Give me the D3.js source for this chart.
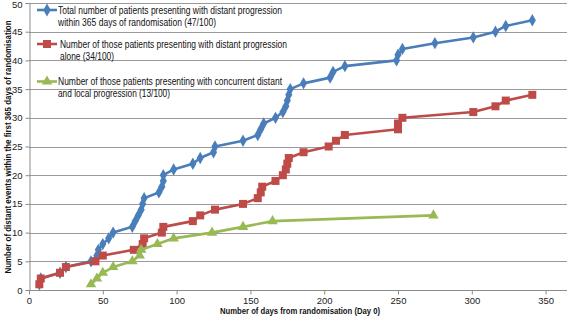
<!DOCTYPE html>
<html>
<head>
<meta charset="utf-8">
<script src="https://cdn.jsdelivr.net/npm/d3@7"></script>
<style>
  body { margin: 0; background: #fff; }
  svg { display: block; font-family: "Liberation Sans", Arial, sans-serif; }
</style>
</head>
<body>
<svg id="chart" width="567" height="317"></svg>
<script>
// days from randomisation at which the cumulative count goes up by one
const totalDays = [7, 8, 21, 25, 42, 46, 47, 50, 54, 57, 70, 72, 74, 76, 77, 78, 88, 90, 91, 91,
  98, 111, 116, 125, 126, 145, 155, 157, 159, 167, 172, 174, 175, 176, 177, 186, 204, 206, 214,
  249, 250, 253, 275, 301, 316, 323, 341];
const aloneDays = [7, 8, 21, 25, 45, 50, 71, 77, 78, 90, 91, 111, 116, 126, 145, 155, 157, 158,
  167, 172, 174, 175, 176, 186, 203, 208, 214, 250, 250, 253, 301, 316, 323, 341];
const concurrentDays = [42, 46, 50, 57, 70, 75, 76, 87, 98, 124, 145, 165, 274];

const yTicks = [0, 5, 10, 15, 20, 25, 30, 35, 40, 45, 50];
const xTicks = [0, 50, 100, 150, 200, 250, 300, 350];

const legendItems = [
  { lines: ["Total number of patients presenting with distant progression",
            "within 365 days of randomisation (47/100)"], color: "#4a7ebb", shape: d3.symbolDiamond, size: 48 },
  { lines: ["Number of those patients presenting with distant progression",
            "alone (34/100)"], color: "#be4b48", shape: d3.symbolSquare, size: 64 },
  { lines: ["Number of those patients presenting with concurrent distant",
            "and local progression (13/100)"], color: "#98b954", shape: d3.symbolTriangle, size: 48 }
];

const series = [
  { days: totalDays, color: "#4a7ebb", shape: d3.symbolDiamond, size: 44 },
  { days: aloneDays, color: "#be4b48", shape: d3.symbolSquare, size: 64 },
  { days: concurrentDays, color: "#98b954", shape: d3.symbolTriangle, size: 48 }
];

const svg = d3.select("#chart");
const margin = { left: 29, top: 3, bottom: 27 };
const plotBottom = 317 - margin.bottom;

const x = d3.scaleLinear().domain([0, 365]).range([margin.left, margin.left + 365 * 1.476]);
const y = d3.scaleLinear().domain([0, 50]).range([plotBottom, margin.top]);

// gridlines
svg.append("g")
  .selectAll("line")
  .data(yTicks.filter(d => d > 0))
  .enter()
  .append("line")
  .attr("x1", margin.left)
  .attr("x2", 567)
  .attr("y1", d => Math.round(y(d)) + 0.5)
  .attr("y2", d => Math.round(y(d)) + 0.5)
  .attr("stroke", "#9a9a9a")
  .attr("stroke-width", 1);

// axes
const xAxis = svg.append("g")
  .attr("transform", `translate(0, ${Math.round(plotBottom) + 0.5})`)
  .call(d3.axisBottom(x).tickValues(xTicks).tickSize(4).tickPadding(3));
const yAxis = svg.append("g")
  .attr("transform", `translate(${margin.left + 0.5}, 0)`)
  .call(d3.axisLeft(y).tickValues(yTicks).tickSize(4).tickPadding(3));

[xAxis, yAxis].forEach(g => {
  g.select(".domain").attr("stroke", "#8c8c8c");
  g.selectAll(".tick line").attr("stroke", "#8c8c8c");
  g.selectAll(".tick text")
    .attr("fill", "#222")
    .style("font-size", "9.5px");
});
xAxis.select(".domain").attr("d", `M${margin.left},0H567`);
// keep the top label inside the picture
yAxis.selectAll(".tick text").filter(d => d === 50).attr("dy", "0.5em");

// series
const line = d3.line()
  .x(d => x(d.day))
  .y(d => y(d.n));

series.forEach(s => {
  const pts = s.days.map((day, i) => ({ day, n: i + 1 }));
  svg.append("path")
    .datum(pts)
    .attr("fill", "none")
    .attr("stroke", s.color)
    .attr("stroke-width", 2.6)
    .attr("stroke-linejoin", "round")
    .attr("d", line);
  svg.append("g")
    .selectAll("path")
    .data(pts)
    .enter()
    .append("path")
    .attr("transform", d => `translate(${x(d.day)}, ${y(d.n)})`)
    .attr("d", d3.symbol().type(s.shape).size(s.size))
    .attr("fill", s.color);
});

// legend
const legendY = [10, 44, 81.5];
const legendWidths = [[224, 158], [227, 54], [224, 112]];
legendItems.forEach((item, i) => {
  const g = svg.append("g").attr("transform", `translate(0, ${legendY[i]})`);
  g.append("line")
    .attr("x1", 37).attr("x2", 57)
    .attr("stroke", item.color).attr("stroke-width", 2.6);
  g.append("path")
    .attr("transform", "translate(47, 0)")
    .attr("d", d3.symbol().type(item.shape).size(item.size))
    .attr("fill", item.color);
  item.lines.forEach((t, j) => {
    g.append("text")
      .attr("x", i === 1 ? 60 : 58)
      .attr("y", j * 12.3 + 3.5)
      .attr("textLength", legendWidths[i][j])
      .attr("lengthAdjust", "spacingAndGlyphs")
      .style("font-size", "10px")
      .style("fill", "#111")
      .text(t);
  });
});

// axis titles
svg.append("text")
  .attr("x", 300)
  .attr("y", 314)
  .attr("textLength", 160)
  .attr("lengthAdjust", "spacingAndGlyphs")
  .style("text-anchor", "middle")
  .style("font-size", "9px")
  .style("font-weight", "bold")
  .style("fill", "#111")
  .text("Number of days from randomisation (Day 0)");

svg.append("text")
  .attr("transform", "rotate(-90)")
  .attr("x", -147)
  .attr("y", 10.5)
  .attr("textLength", 253)
  .attr("lengthAdjust", "spacingAndGlyphs")
  .style("text-anchor", "middle")
  .style("font-size", "8.8px")
  .style("font-weight", "bold")
  .style("fill", "#111")
  .text("Number of distant events within the first 365 days of randomisation");
</script>
</body>
</html>
